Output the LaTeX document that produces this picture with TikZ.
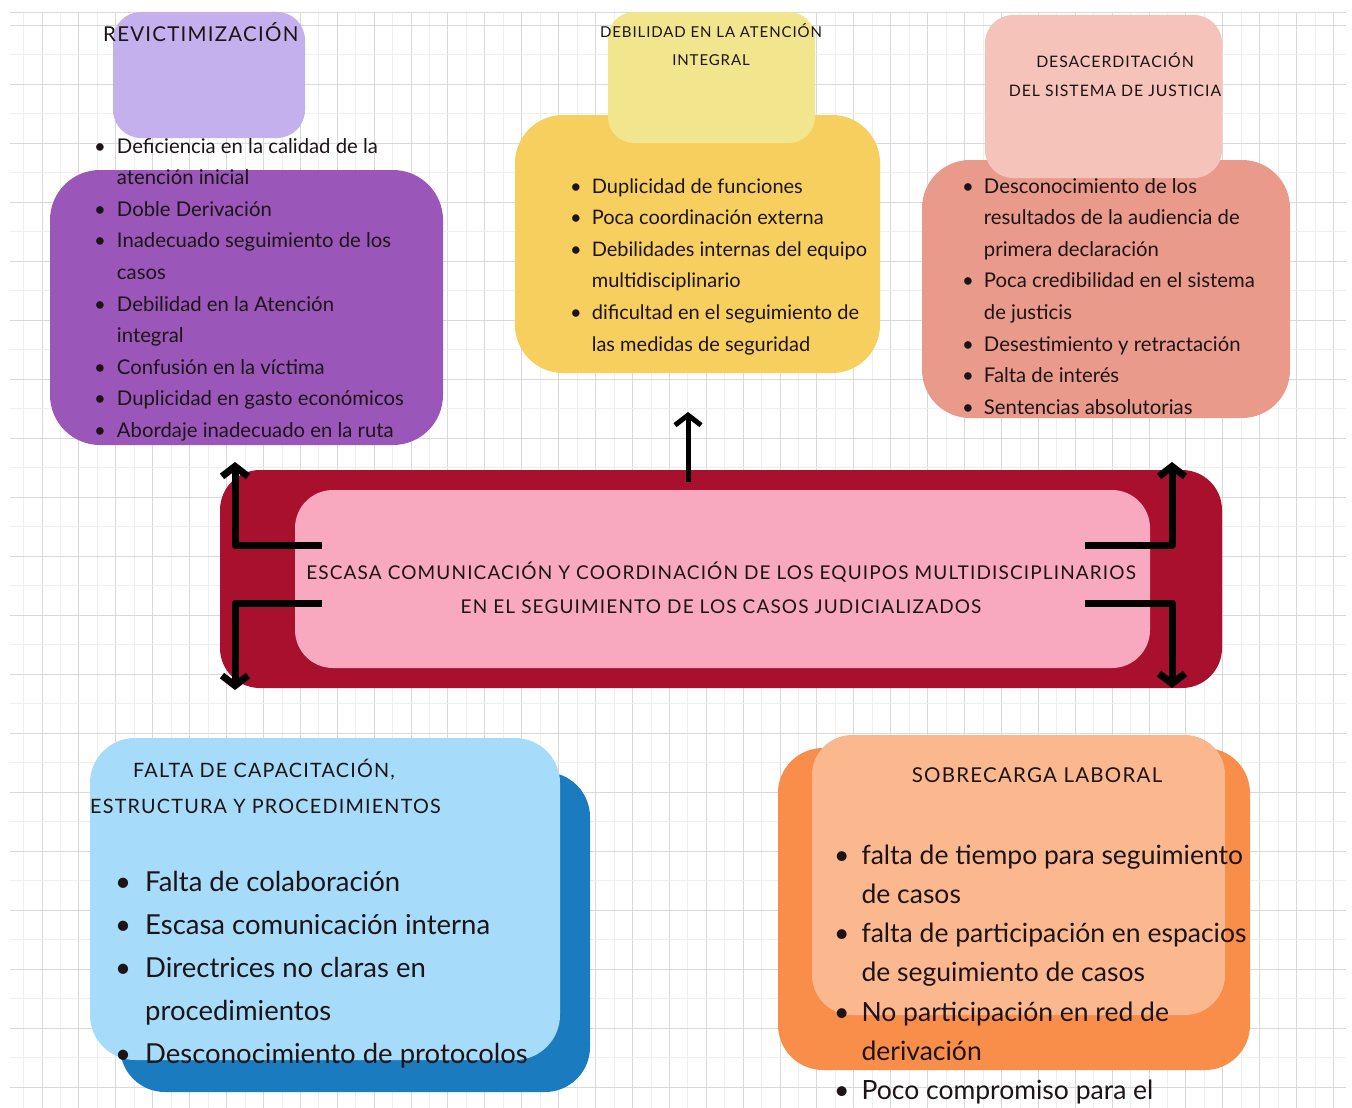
\documentclass[tikz,border=0pt]{standalone}
\usepackage{fontspec}
\setmainfont{Lato}
\newfontfamily\ttlfont[LetterSpace=6]{Lato}
\usetikzlibrary{arrows.meta}
\definecolor{gridc}{HTML}{D9D9D9}
\definecolor{gridm}{HTML}{EFEFEF}
\definecolor{lpurple}{HTML}{C4B0EC}
\definecolor{purplec}{HTML}{9A56B8}
\definecolor{lyellow}{HTML}{F1E68E}
\definecolor{yellowc}{HTML}{F7CF5E}
\definecolor{lpink}{HTML}{F5C3B9}
\definecolor{salmon}{HTML}{E99A8B}
\definecolor{darkred}{HTML}{A8102E}
\definecolor{pinkc}{HTML}{F9A9BF}
\definecolor{dblue}{HTML}{1B7BBF}
\definecolor{lblue}{HTML}{A6DCFA}
\definecolor{orangec}{HTML}{F98D4A}
\definecolor{peach}{HTML}{FBB88F}
\definecolor{txt}{HTML}{1C1416}
\newcommand{\bl}{\textbullet}
\tikzset{
  boxc/.style={rounded corners=#1, draw=none},
  ttl/.style 2 args={font=\ttlfont\fontsize{#1}{#2}\selectfont, text=txt, inner sep=0pt},
  lst/.style={inner sep=0pt, text=txt, anchor=base west},
  arr/.style={line width=7pt, line join=round, draw=black,
    -{Straight Barb[length=10pt,width=26pt]}},
}
\begin{document}
\begin{tikzpicture}[x=1pt,y=-1pt]
\useasboundingbox (0,0) rectangle (1352,1108);
\fill[white] (0,0) rectangle (1352,1108);
% grid
\begin{scope}
\clip (10,12) rectangle (1346,1108);
\foreach \i in {0,...,36} {
  \draw[gridm, line width=0.6pt] ({23.5+36.9*\i},12) -- ++(0,1100);
  \draw[gridc, line width=0.8pt] ({5+36.9*\i},12) -- ++(0,1100);
}
\foreach \i in {0,...,19} {
  \draw[gridm, line width=0.6pt] (10,{54.5+59*\i}) -- ++(1340,0);
  \draw[gridc, line width=0.8pt] (10,{25+59*\i}) -- ++(1340,0);
}
\draw[gridc, line width=0.8pt] (10,12) -- (1346,12);
\end{scope}

% ---------- top left: revictimizacion
\fill[lpurple, boxc=28] (113,12) rectangle (305,138);
\fill[purplec, boxc=50] (50,170) rectangle (443,445);
\node[ttl={20.5}{24}, anchor=base west] (t1) at (103,42) {REVICTIMIZACIÓN};
\node[lst] (l1) at (94,153) {\fontsize{20.3}{31.6}\selectfont
\begin{tabular}[t]{@{}l@{\hspace{11pt}}l@{}}
\bl & Deficiencia en la calidad de la\\
 & atención inicial\\
\bl & Doble Derivación\\
\bl & Inadecuado seguimiento de los\\
 & casos\\
\bl & Debilidad en la Atención\\
 & integral\\
\bl & Confusión en la víctima\\
\bl & Duplicidad en gasto económicos\\
\bl & Abordaje inadecuado en la ruta
\end{tabular}};

% ---------- top middle: debilidad
\fill[yellowc, boxc=48] (515,115) rectangle (880,373);
\fill[lyellow, boxc=26] (608,12) rectangle (815,143);
\node[ttl={15}{28}, align=center, anchor=base] (t2) at (711,66) {DEBILIDAD EN LA ATENCIÓN\\INTEGRAL};
\node[lst] (l2) at (570,193) {\fontsize{20}{31.6}\selectfont
\begin{tabular}[t]{@{}l@{\hspace{10pt}}l@{}}
\bl & Duplicidad de funciones\\
\bl & Poca coordinación externa\\
\bl & Debilidades internas del equipo\\
 & multidisciplinario\\
\bl & dificultad en el seguimiento de\\
 & las medidas de seguridad
\end{tabular}};

% ---------- top right: desacreditacion
\fill[salmon, boxc=48] (922,160) rectangle (1290,418);
\fill[lpink, boxc=28] (985,15) rectangle (1222,178);
\node[ttl={15.8}{29}, align=center, anchor=base] (t3) at (1115,96) {DESACERDITACIÓN\\DEL SISTEMA DE JUSTICIA};
\node[lst] (l3) at (962,193) {\fontsize{20.3}{31.6}\selectfont
\begin{tabular}[t]{@{}l@{\hspace{10pt}}l@{}}
\bl & Desconocimiento de los\\
 & resultados de la audiencia de\\
 & primera declaración\\
\bl & Poca credibilidad en el sistema\\
 & de justicis\\
\bl & Desestimiento y retractación\\
\bl & Falta de interés\\
\bl & Sentencias absolutorias
\end{tabular}};

% ---------- centre
\fill[darkred, boxc=40] (220,470) rectangle (1222,688);
\fill[pinkc, boxc=38] (295,490) rectangle (1150,668);
\node[ttl={19}{34}, align=center, anchor=base] (c) at (721,613) {ESCASA COMUNICACIÓN Y COORDINACIÓN DE LOS EQUIPOS MULTIDISCIPLINARIOS\\EN EL SEGUIMIENTO DE LOS CASOS JUDICIALIZADOS};

% arrows
\coordinate (LUs) at (322,545);
\coordinate (LUc) at (235,545);
\coordinate (LUt) at (235,462);
\coordinate (LDs) at (322,603);
\coordinate (LDc) at (235,603);
\coordinate (LDt) at (235,690);
\coordinate (RUs) at (1085,545);
\coordinate (RUc) at (1172,545);
\coordinate (RUt) at (1172,462);
\coordinate (RDs) at (1085,603);
\coordinate (RDc) at (1172,603);
\coordinate (RDt) at (1172,688);
\coordinate (Ms) at (688,482);
\coordinate (Mt) at (688,412);
\draw[arr] (LUs) -- (LUc) -- (LUt);
\draw[arr] (LDs) -- (LDc) -- (LDt);
\draw[arr] (RUs) -- (RUc) -- (RUt);
\draw[arr] (RDs) -- (RDc) -- (RDt);
\draw[arr, line width=5pt] (Ms) -- (Mt);

% ---------- bottom left
\fill[dblue, boxc=45] (120,772) rectangle (590,1092);
\filldraw[fill=lblue, draw=white, line width=2pt, boxc=45] (90,738) rectangle (560,1060);
\node[ttl={19.8}{36}, align=left, anchor=base west] (t4) at (90,813) {\hspace*{43pt}FALTA DE CAPACITACIÓN,\\ESTRUCTURA Y PROCEDIMIENTOS};
\node[lst] (l4) at (115,891) {\fontsize{27.5}{43.2}\selectfont
\begin{tabular}[t]{@{}l@{\hspace{14pt}}l@{}}
\bl & Falta de colaboración\\
\bl & Escasa comunicación interna\\
\bl & Directrices no claras en\\
 & procedimientos\\
\bl & Desconocimiento de protocolos
\end{tabular}};

% ---------- bottom right
\fill[orangec, boxc=45] (778,748) rectangle (1250,1070);
\filldraw[fill=peach, draw=white, line width=2pt, boxc=40] (812,735) rectangle (1225,1015);
\node[ttl={20.5}{24}, anchor=base] (t5) at (1037,782) {SOBRECARGA LABORAL};
\node[lst] (l5) at (834,864) {\fontsize{26.5}{39.3}\selectfont
\begin{tabular}[t]{@{}l@{\hspace{12pt}}l@{}}
\bl & falta de tiempo para seguimiento\\
 & de casos\\
\bl & falta de participación en espacios\\
 & de seguimiento de casos\\
\bl & No participación en red de\\
 & derivación\\
\bl & Poco compromiso para el
\end{tabular}};
\end{tikzpicture}
\end{document}
